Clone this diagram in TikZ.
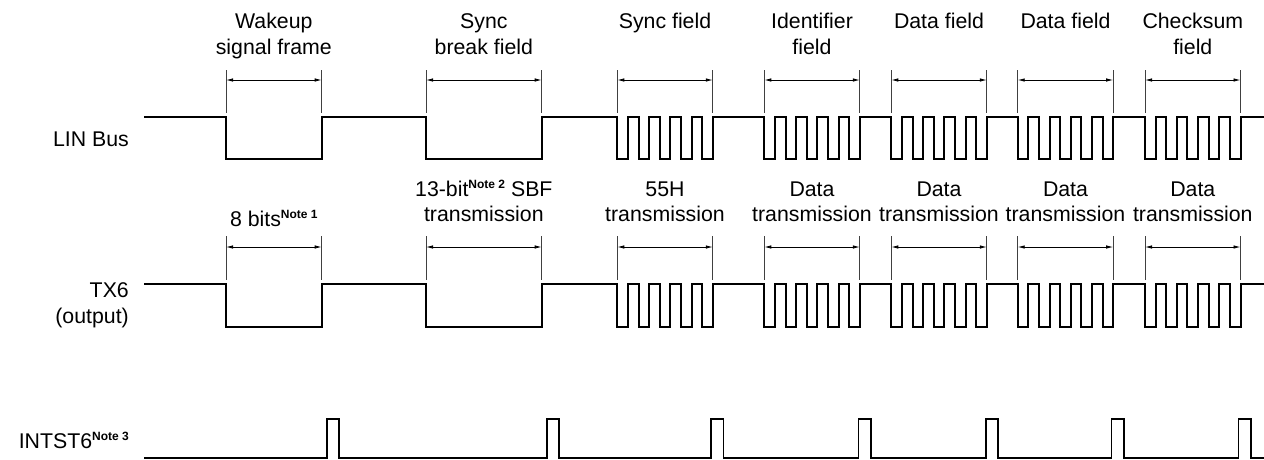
\documentclass[tikz,border=0pt]{standalone}
\usepackage{fontspec}
\setmainfont{Liberation Sans}
\usetikzlibrary{arrows.meta}
\newcommand\nt[1]{\raisebox{7.5pt}{\fontsize{12}{12}\selectfont\bfseries Note~#1}}
\def\bw{10.61}
\def\amp{42.6}
\begin{document}
\begin{tikzpicture}[x=1pt,y=-1pt,
  sig/.style={line width=2pt, line join=miter},
  isig/.style={line width=1.6pt, line join=miter},
  tickline/.style={line width=0.9pt, draw=black!75},
  dimline/.style={line width=0.8pt, {Latex[length=7pt,width=3.5pt]}-{Latex[length=7pt,width=3.5pt]}},
  lab/.style={inner sep=0pt, anchor=base, font=\fontsize{21.3}{26}\selectfont},
  side/.style={inner sep=0pt, anchor=base east, font=\fontsize{21.3}{26}\selectfont},
  ptrain/.style 2 args={insert path={-- (#1,#2) -- ++(0,\amp) -- ++(\bw,0) -- ++(0,-\amp) -- ++(\bw,0) -- ++(0,\amp) -- ++(\bw,0) -- ++(0,-\amp) -- ++(\bw,0) -- ++(0,\amp) -- ++(\bw,0) -- ++(0,-\amp) -- ++(\bw,0) -- ++(0,\amp) -- ++(\bw,0) -- ++(0,-\amp) -- ++(\bw,0) -- ++(0,\amp) -- ++(\bw,0) -- ++(0,-\amp)}},
  ipulse/.style={insert path={-- (#1,457.8) -- ++(0,-38.8) -- ++(12.4,0) -- ++(0,38.8)}},
]
\useasboundingbox (0,0) rectangle (1264,459);

% side labels
\node[side] (linlab) at (129,146) {LIN Bus};
\node[side] (txlab) at (129,297.5) {TX6};
\node[side] (txlab2) at (129,323.5) {(output)};
\node[side] (intlab) at (129,448) {INTST6\nt{3}};

% LIN bus signal
\draw[sig] (144.3,116.7) -- (226,116.7) -- (226,159.3) -- (321.7,159.3) -- (321.7,116.7)
  -- (426,116.7) -- (426,159.3) -- (541.7,159.3) -- (541.7,116.7)
  [ptrain={617.3}{116.7}] [ptrain={764.3}{116.7}] [ptrain={891.3}{116.7}]
  [ptrain={1017.7}{116.7}] [ptrain={1145}{116.7}] -- (1264,116.7);

% TX6 signal
\draw[sig] (144.3,284.3) -- (226,284.3) -- (226,326.9) -- (321.7,326.9) -- (321.7,284.3)
  -- (426,284.3) -- (426,326.9) -- (541.7,326.9) -- (541.7,284.3)
  [ptrain={617.3}{284.3}] [ptrain={764.3}{284.3}] [ptrain={891.3}{284.3}]
  [ptrain={1017.7}{284.3}] [ptrain={1145}{284.3}] -- (1264,284.3);

% INTST6 signal
\draw[isig] (144.3,457.8) [ipulse=326.7] [ipulse=546.7] [ipulse=711] [ipulse=858.3]
  [ipulse=985.7] [ipulse=1111.3] [ipulse=1238.3] -- (1264,457.8);

% dimension marks
\foreach \s/\e/\n in {226/321.7/wake, 426/541.7/sbf, 617.3/712.8/sync, 764.3/859.8/id,
                      891.3/986.8/da, 1017.7/1113.2/db, 1145/1240.5/cs} {
  \coordinate (L\n a) at (\s,80);
  \coordinate (L\n b) at (\e,80);
  \draw[tickline] (\s,70) -- (\s,113);
  \draw[tickline] (\e,70) -- (\e,113);
  \draw[dimline] (L\n a) -- (L\n b);
  \coordinate (T\n a) at (\s,247);
  \coordinate (T\n b) at (\e,247);
  \draw[tickline] (\s,236) -- (\s,280);
  \draw[tickline] (\e,236) -- (\e,280);
  \draw[dimline] (T\n a) -- (T\n b);
}

% LIN labels
\node[lab] (w1) at (273.85,28.3) {Wakeup};
\node[lab] (w2) at (273.85,54.3) {signal frame};
\node[lab] (s1) at (483.85,28.3) {Sync};
\node[lab] (s2) at (483.85,54.3) {break field};
\node[lab] (sf) at (665,28.3) {Sync field};
\node[lab] (i1) at (812,28.3) {Identifier};
\node[lab] (i2) at (812,54.3) {field};
\node[lab] (d1) at (939,28.3) {Data field};
\node[lab] (d2) at (1065.5,28.3) {Data field};
\node[lab] (c1) at (1192.8,28.3) {Checksum};
\node[lab] (c2) at (1192.8,54.3) {field};

% TX6 labels
\node[lab] (t1) at (273.85,226) {8 bits\nt{1}};
\node[lab] (t2) at (483.85,196) {13-bit\nt{2} SBF};
\node[lab] (t3) at (483.85,221) {transmission};
\node[lab] (t4) at (665,196) {55H};
\node[lab] (t5) at (665,221) {transmission};
\node[lab] (t6) at (812,196) {Data};
\node[lab] (t7) at (812,221) {transmission};
\node[lab] (t8) at (939,196) {Data};
\node[lab] (t9) at (939,221) {transmission};
\node[lab] (t10) at (1065.5,196) {Data};
\node[lab] (t11) at (1065.5,221) {transmission};
\node[lab] (t12) at (1192.8,196) {Data};
\node[lab] (t13) at (1192.8,221) {transmission};
\end{tikzpicture}
\end{document}
